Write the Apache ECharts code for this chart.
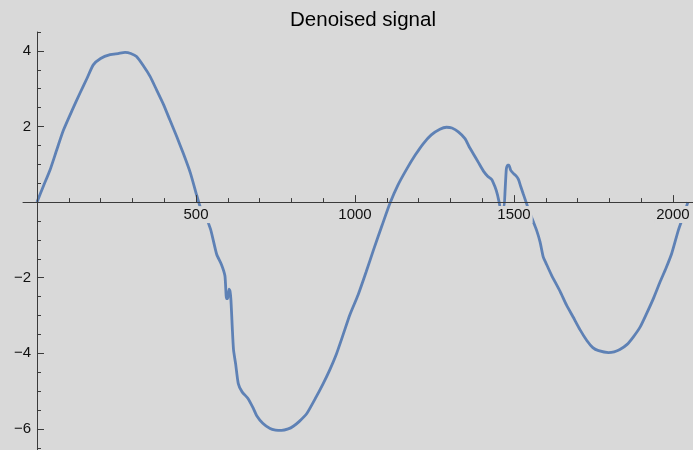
<!DOCTYPE html>
<html>
<head>
<meta charset="utf-8">
<script src="https://cdn.jsdelivr.net/npm/echarts@6/dist/echarts.min.js"></script>
<style>
html,body{margin:0;padding:0;background:#d9d9d9;}
#chart{width:693px;height:450px;}
</style>
</head>
<body>
<div id="chart"></div>
<script>
const title = "Denoised signal";
const xs = [0,20,41,62,83,110,135,157,177,200,230,255,277,295,313,335,356,376,398,418,440,460,482,502,513,530,546,565,580,591,596,600,604,607,610,614,618,625,633,645,664,680,691,710,733,750,769,790,806,825,848,875,900,920,942,963,984,1010,1035,1058,1085,1110,1135,1163,1190,1215,1240,1267,1288,1305,1325,1346,1360,1372,1388,1404,1418,1430,1440,1448,1454,1457,1468,1472,1476,1480,1484,1490,1498,1506,1514,1521,1529,1545,1560,1571,1582,1592,1600,1618,1645,1665,1686,1708,1729,1748,1766,1797,1815,1833,1855,1875,1897,1917,1938,1959,1978,1996,2017,2032,2047];
const ys = [0,0.42,0.85,1.38,1.9,2.42,2.88,3.27,3.63,3.8,3.9,3.93,3.96,3.93,3.85,3.6,3.32,2.97,2.58,2.17,1.72,1.29,0.78,0.19,-0.12,-0.38,-0.72,-1.38,-1.65,-1.95,-2.55,-2.55,-2.3,-2.35,-2.6,-3.3,-3.9,-4.3,-4.8,-5.02,-5.2,-5.45,-5.65,-5.85,-5.99,-6.03,-6.04,-6.0,-5.93,-5.8,-5.6,-5.2,-4.8,-4.45,-4.01,-3.5,-2.98,-2.45,-1.85,-1.27,-0.62,-0.03,0.45,0.88,1.25,1.55,1.78,1.93,1.98,1.96,1.86,1.68,1.45,1.28,1.05,0.82,0.68,0.6,0.41,0.2,-0.03,-0.14,-0.14,0.3,0.88,0.98,0.98,0.84,0.76,0.7,0.6,0.42,0.22,-0.17,-0.5,-0.74,-1.05,-1.45,-1.6,-1.93,-2.36,-2.72,-3.04,-3.38,-3.66,-3.85,-3.93,-3.98,-3.96,-3.9,-3.77,-3.57,-3.3,-2.95,-2.56,-2.12,-1.75,-1.36,-0.74,-0.38,0.0];
const xMajorTicks = [500,1000,1500,2000];
const xMinorTicks = [100,200,300,400,600,700,800,900,1100,1200,1300,1400,1600,1700,1800,1900];
const yMajorTicks = [-6,-4,-2,2,4];
const yMinorTicks = [-6.5,-5.5,-5,-4.5,-3.5,-3,-2.5,-1.5,-1,-0.5,0.5,1,1.5,2.5,3,3.5,4.5];

const X_MIN = -44, X_MAX = 2063, Y_MIN = -6.6, Y_MAX = 4.5;
const GRID_LEFT = 23, GRID_TOP = 32, GRID_W = 670, GRID_H = 419.6;
const FONT = "'Liberation Sans', Arial, sans-serif";
const AX = '#3a3a3a';

// offsets that put the axes on the zero lines
const xAxisOffset = -GRID_H * (0 - Y_MIN) / (Y_MAX - Y_MIN);
const yAxisOffset = -GRID_W * (0 - X_MIN) / (X_MAX - X_MIN);

const points = xs.map((x, i) => [x, ys[i]]);
const fmt = v => (v < 0 ? '\u2212' + Math.abs(v) : String(v));

const chart = echarts.init(document.getElementById('chart'), null, {renderer: 'canvas'});
chart.setOption({
  backgroundColor: '#d9d9d9',
  animation: false,
  title: {
    text: title, left: 358, top: 5, textAlign: 'center',
    textStyle: {fontFamily: FONT, fontSize: 20.5, fontWeight: 'normal', color: '#000'}
  },
  grid: {left: GRID_LEFT, top: GRID_TOP, width: GRID_W, height: GRID_H, containLabel: false, outerBoundsMode: 'none'},
  xAxis: [{
    type: 'value', min: X_MIN, max: X_MAX, position: 'bottom', z: 5, offset: xAxisOffset,
    axisLine: {onZero: false, lineStyle: {color: AX, width: 1}},
    axisTick: {show: true, inside: true, length: 7, customValues: xMajorTicks, lineStyle: {color: AX}},
    axisLabel: {customValues: xMajorTicks, formatter: fmt, fontFamily: FONT, fontSize: 15, color: '#111', margin: 4,
      backgroundColor: '#d9d9d9', padding: [1, 2]},
    splitLine: {show: false}
  }, {
    type: 'value', min: X_MIN, max: X_MAX, position: 'bottom', z: 4, offset: xAxisOffset,
    axisLine: {show: false, onZero: false},
    axisTick: {show: true, inside: true, length: 4, customValues: xMinorTicks, lineStyle: {color: AX}},
    axisLabel: {show: false},
    splitLine: {show: false}
  }],
  yAxis: [{
    type: 'value', min: Y_MIN, max: Y_MAX, position: 'left', z: 5, offset: yAxisOffset,
    axisLine: {onZero: false, lineStyle: {color: AX, width: 1}},
    axisTick: {show: true, inside: true, length: 7, customValues: yMajorTicks, lineStyle: {color: AX}},
    axisLabel: {customValues: yMajorTicks, formatter: fmt, fontFamily: FONT, fontSize: 15, color: '#111', margin: 6},
    splitLine: {show: false}
  }, {
    type: 'value', min: Y_MIN, max: Y_MAX, position: 'left', z: 4, offset: yAxisOffset,
    axisLine: {show: false, onZero: false},
    axisTick: {show: true, inside: true, length: 4, customValues: yMinorTicks, lineStyle: {color: AX}},
    axisLabel: {show: false},
    splitLine: {show: false}
  }],
  series: [{
    type: 'line', xAxisIndex: 0, yAxisIndex: 0, data: points,
    showSymbol: false, smooth: 0.2, z: 2,
    lineStyle: {color: '#5e81b5', width: 2.8}
  }]
});
</script>
</body>
</html>
